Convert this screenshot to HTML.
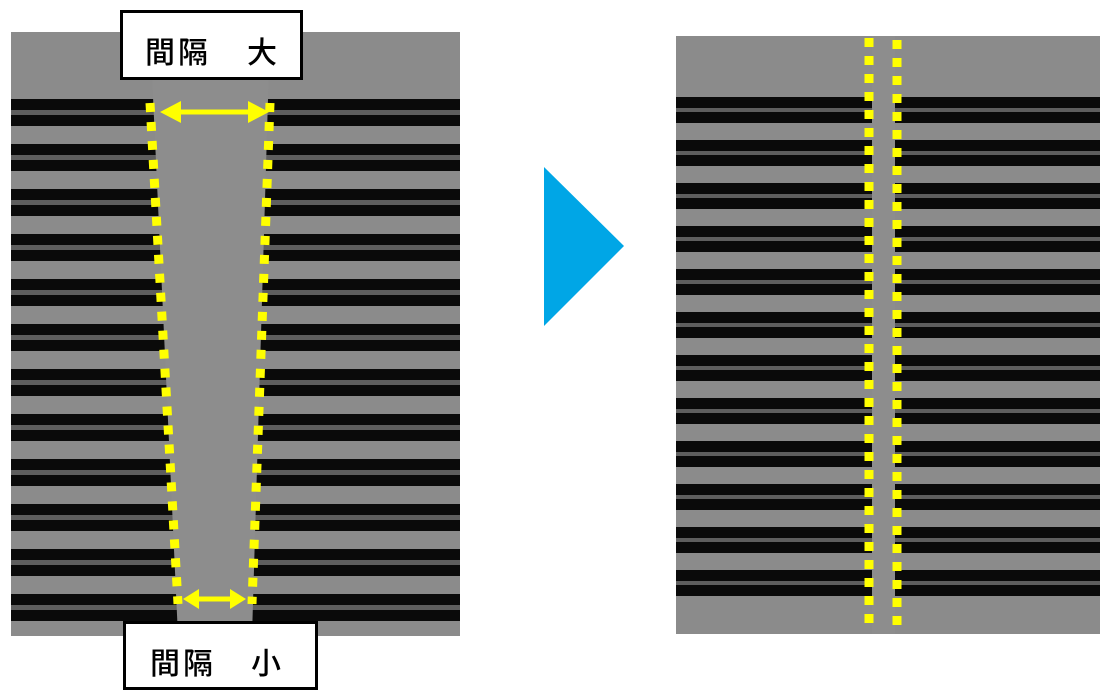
<!DOCTYPE html>
<html><head><meta charset="utf-8"><style>
html,body{margin:0;padding:0;background:#fff;width:1115px;height:696px;overflow:hidden}
svg{display:block}
text{font-family:"Liberation Sans","Noto Sans CJK JP",sans-serif;font-weight:500}
</style></head><body>
<svg width="1115" height="696" viewBox="0 0 1115 696" xmlns="http://www.w3.org/2000/svg">
<defs>
<pattern id="pl" patternUnits="userSpaceOnUse" x="0" y="99" width="10" height="45">
<rect x="0" y="0" width="10" height="11" fill="#0a0a0a"/>
<rect x="0" y="11" width="10" height="5" fill="#5e5e5e"/>
<rect x="0" y="16" width="10" height="11" fill="#0a0a0a"/>
</pattern>
<pattern id="pr" patternUnits="userSpaceOnUse" x="0" y="97" width="10" height="43">
<rect x="0" y="0" width="10" height="11" fill="#0a0a0a"/>
<rect x="0" y="11" width="10" height="4" fill="#5e5e5e"/>
<rect x="0" y="15" width="10" height="11" fill="#0a0a0a"/>
</pattern>
</defs>
<rect x="11" y="32" width="449" height="604" fill="#8b8b8b"/>
<rect x="11" y="99" width="449" height="522" fill="url(#pl)"/>
<polygon points="150,32 270,32 252,636 178,636" fill="#8d8d8d"/>
<line x1="150" y1="103" x2="178" y2="604" stroke="#ffff00" stroke-width="9" stroke-dasharray="9 10"/>
<line x1="270" y1="103" x2="252" y2="604" stroke="#ffff00" stroke-width="9" stroke-dasharray="9 10"/>
<line x1="175" y1="112" x2="255" y2="112" stroke="#ffff00" stroke-width="5"/>
<polygon points="160,112 181,101 181,123" fill="#ffff00"/>
<polygon points="269,112 248,101 248,123" fill="#ffff00"/>
<line x1="195" y1="599" x2="233" y2="599" stroke="#ffff00" stroke-width="5"/>
<polygon points="183,599 199,589 199,609" fill="#ffff00"/>
<polygon points="246,599 230,589 230,609" fill="#ffff00"/>
<rect x="121.5" y="11.5" width="180" height="67" fill="#fff" stroke="#000" stroke-width="3"/>
<text x="145" y="63" font-size="30">間</text>
<text x="178" y="63" font-size="30">隔</text>
<text x="247" y="63" font-size="30">大</text>
<rect x="124.5" y="622.5" width="192" height="66" fill="#fff" stroke="#000" stroke-width="3"/>
<text x="150" y="674" font-size="30">間</text>
<text x="183" y="674" font-size="30">隔</text>
<text x="251" y="674" font-size="30">小</text>
<polygon points="544,167 624,246 544,326" fill="#00a6e6"/>
<rect x="676" y="36" width="424" height="598" fill="#8b8b8b"/>
<rect x="676" y="97" width="424" height="502" fill="url(#pr)"/>
<rect x="872" y="36" width="23" height="598" fill="#8d8d8d"/>
<line x1="869" y1="38" x2="869" y2="632" stroke="#ffff00" stroke-width="9" stroke-dasharray="9 9"/>
<line x1="897" y1="40" x2="897" y2="634" stroke="#ffff00" stroke-width="9" stroke-dasharray="9 9"/>
</svg>
</body></html>
